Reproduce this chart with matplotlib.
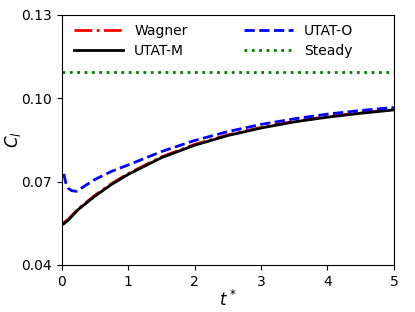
import matplotlib
matplotlib.use('Agg')
import matplotlib.pyplot as plt

# values
t_wag = [0.03, 0.1, 0.25, 0.5, 0.75, 1.0, 1.5, 2.0, 2.5, 3.0, 3.5, 4.0, 4.5, 5.0]
cl_wag = [0.0552, 0.0565, 0.0603, 0.0651, 0.0693, 0.0729, 0.0789, 0.0834, 0.0868, 0.0895, 0.0917, 0.0934, 0.0948, 0.0960]
t_utm = [0.03, 0.1, 0.25, 0.5, 0.75, 1.0, 1.5, 2.0, 2.5, 3.0, 3.5, 4.0, 4.5, 5.0]
cl_utm = [0.0548, 0.0562, 0.0600, 0.0648, 0.0690, 0.0726, 0.0786, 0.0831, 0.0866, 0.0893, 0.0915, 0.0932, 0.0946, 0.0958]
t_uto = [0.03, 0.06, 0.1, 0.15, 0.22, 0.35, 0.5, 0.75, 1.0, 1.5, 2.0, 2.5, 3.0, 3.5, 4.0, 4.5, 5.0]
cl_uto = [0.0728, 0.0695, 0.0675, 0.0667, 0.0665, 0.0685, 0.0708, 0.0737, 0.0760, 0.0808, 0.0848, 0.0880, 0.0906, 0.0926, 0.0943, 0.0956, 0.0967]
cl_steady = 0.1096

fig = plt.figure(figsize=(4.15, 3.12), dpi=100)
ax = fig.add_axes([0.149, 0.151, 0.80, 0.801])

ax.plot(t_wag, cl_wag, 'r-.', lw=2, label='Wagner')
ax.plot(t_utm, cl_utm, 'k-', lw=2, label='UTAT-M')
ax.plot(t_uto, cl_uto, 'b--', lw=2, label='UTAT-O')
ax.axhline(cl_steady, color='g', ls=':', lw=2, label='Steady')

ax.set_xlim(0, 5)
ax.set_ylim(0.04, 0.13)
ax.set_xticks([0, 1, 2, 3, 4, 5])
ax.set_yticks([0.04, 0.07, 0.10, 0.13])
ax.set_yticklabels(['0.04', '0.07', '0.10', '0.13'])
ax.set_xlabel('$t^*$', fontsize=12, labelpad=1)
ax.set_ylabel('$C_l$', fontsize=12, labelpad=-1)
ax.legend(ncol=2, loc='upper left', bbox_to_anchor=(0.0, 1.015), frameon=False,
          fontsize=10, handlelength=3.5, columnspacing=4.1, labelspacing=0.45)

fig.savefig('out.png', dpi=100)
